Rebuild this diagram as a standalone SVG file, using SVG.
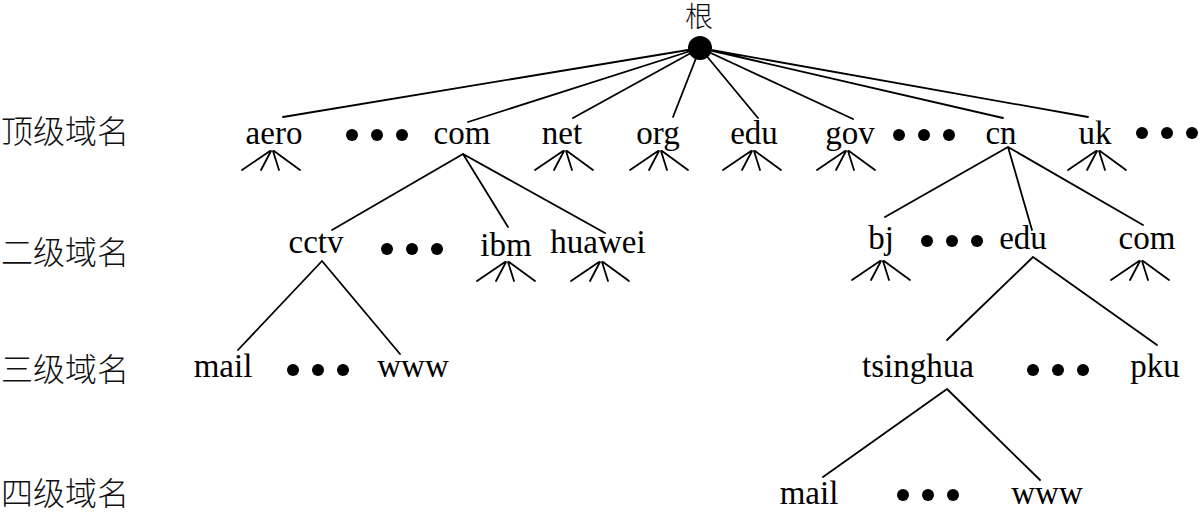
<svg xmlns="http://www.w3.org/2000/svg" width="1199" height="512" viewBox="0 0 1199 512">
<defs>
<style>
.lbl{font-size:33px;fill:#000;text-anchor:middle}
.cjk{font-size:32px;fill:#111;font-weight:300}
.ln{stroke:#000;stroke-width:1.8;fill:none;stroke-linecap:round}
.dot{fill:#000}
</style>
<g id="fan">
<path class="ln" d="M-1,0 L-29,19 M0,0 L-10,19 M2,0 L8,19 M3,0 L29,19"/>
</g>
<g id="dots">
<circle class="dot" cx="0" cy="0" r="6"/>
<circle class="dot" cx="25" cy="0" r="6"/>
<circle class="dot" cx="50" cy="0" r="6"/>
</g>
</defs>
<rect width="1199" height="512" fill="#fff"/>

<g id="level-labels" font-family="Noto Sans CJK SC, Noto Sans, sans-serif">
<text class="cjk" x="1" y="143">顶级域名</text>
<text class="cjk" x="1" y="264">二级域名</text>
<text class="cjk" x="1" y="381">三级域名</text>
<text class="cjk" x="1" y="505">四级域名</text>
</g>

<g id="connectors">
<path class="ln" d="M700,48 L283,117 M700,48 L468,122 M700,48 L573,118 M700,48 L673,117 M700,48 L758,118 M700,48 L853,119 M700,48 L1003,118 M700,48 L1088,117"/>
<path class="ln" d="M463,154 L332,230 M463,154 L508,227 M463,154 L605,233"/>
<path class="ln" d="M322,261 L238,350 M322,261 L400,354"/>
<path class="ln" d="M1008,147 L885,217 M1008,147 L1032,230 M1008,147 L1143,225"/>
<path class="ln" d="M1033,257 L947,340 M1033,257 L1157,345"/>
<path class="ln" d="M947,389 L823,477 M947,389 L1040,480"/>
<use href="#fan" x="271" y="151"/>
<use href="#fan" x="564" y="151"/>
<use href="#fan" x="659" y="151"/>
<use href="#fan" x="752" y="151"/>
<use href="#fan" x="846" y="151"/>
<use href="#fan" x="1097" y="151"/>
<use href="#fan" x="506" y="262"/>
<use href="#fan" x="600" y="262"/>
<use href="#fan" x="881" y="261"/>
<use href="#fan" x="1140" y="261"/>
</g>

<g id="root" font-family="Noto Sans CJK SC, Noto Sans, sans-serif">
<circle cx="700" cy="48" r="12" fill="#000"/>
<text class="cjk" x="699" y="27" font-size="28" style="font-size:28px;text-anchor:middle">根</text>
</g>

<g id="top-level" font-family="Liberation Serif, serif">
<text class="lbl" x="274" y="144">aero</text>
<use href="#dots" x="352" y="135"/>
<text class="lbl" x="462" y="144">com</text>
<text class="lbl" x="562" y="144">net</text>
<text class="lbl" x="658" y="144">org</text>
<text class="lbl" x="754" y="144">edu</text>
<text class="lbl" x="850" y="144">gov</text>
<use href="#dots" x="899" y="135"/>
<text class="lbl" x="1001" y="144">cn</text>
<text class="lbl" x="1095" y="144">uk</text>
<use href="#dots" x="1142" y="133"/>
</g>

<g id="second-level" font-family="Liberation Serif, serif">
<text class="lbl" x="316" y="253">cctv</text>
<use href="#dots" x="387" y="249"/>
<text class="lbl" x="506" y="256">ibm</text>
<text class="lbl" x="598" y="253">huawei</text>
<text class="lbl" x="881" y="249">bj</text>
<use href="#dots" x="927" y="241"/>
<text class="lbl" x="1023" y="249">edu</text>
<text class="lbl" x="1147" y="249">com</text>
</g>

<g id="third-level" font-family="Liberation Serif, serif">
<text class="lbl" x="223" y="377">mail</text>
<use href="#dots" x="293" y="370"/>
<text class="lbl" x="413" y="377">www</text>
<text class="lbl" x="918" y="377">tsinghua</text>
<use href="#dots" x="1033" y="370"/>
<text class="lbl" x="1155" y="377">pku</text>
</g>

<g id="fourth-level" font-family="Liberation Serif, serif">
<text class="lbl" x="809" y="504">mail</text>
<use href="#dots" x="903" y="495"/>
<text class="lbl" x="1047" y="504">www</text>
</g>
</svg>
